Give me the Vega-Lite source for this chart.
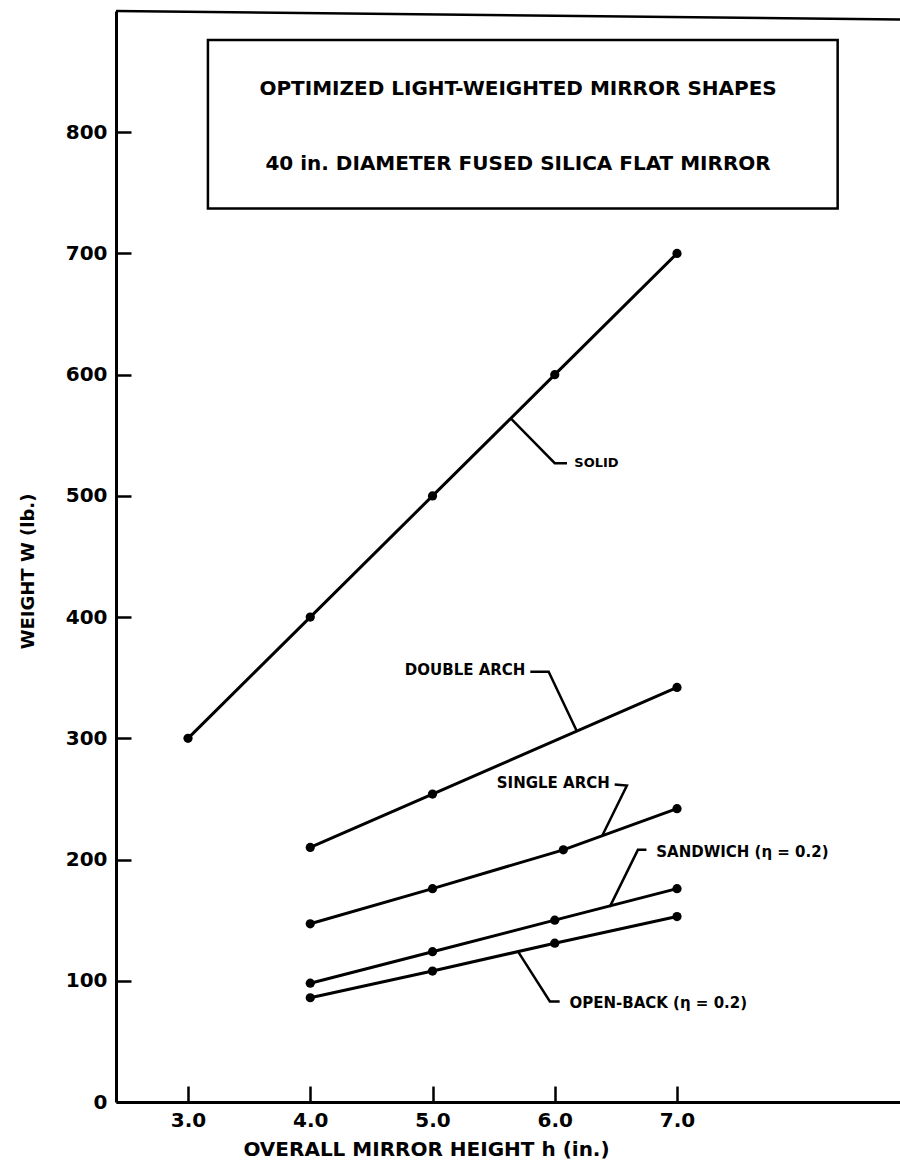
{
  "$schema": "https://vega.github.io/schema/vega-lite/v6.json",
  "width": 784,
  "height": 1091,
  "autosize": "none",
  "padding": {"left": 116, "top": 11, "right": 0, "bottom": 68},
  "background": "white",
  "config": {
    "view": {"stroke": null},
    "font": "DejaVu Sans",
    "axis": {
      "domainColor": "black", "domainWidth": 3, "tickColor": "black", "tickWidth": 2.5,
      "labelFont": "DejaVu Sans", "labelFontWeight": "bold", "labelFontSize": 20, "labelColor": "black",
      "titleFont": "DejaVu Sans", "titleFontWeight": "bold", "titleFontSize": 20, "titleColor": "black",
      "grid": false
    }
  },
  "datasets": {
    "series": [
      {"series": "SOLID", "h": 3.0, "w": 300},
      {"series": "SOLID", "h": 4.0, "w": 400},
      {"series": "SOLID", "h": 5.0, "w": 500},
      {"series": "SOLID", "h": 6.0, "w": 600},
      {"series": "SOLID", "h": 7.0, "w": 700},
      {"series": "DOUBLE ARCH", "h": 4.0, "w": 210},
      {"series": "DOUBLE ARCH", "h": 5.0, "w": 254},
      {"series": "DOUBLE ARCH", "h": 7.0, "w": 342},
      {"series": "SINGLE ARCH", "h": 4.0, "w": 147},
      {"series": "SINGLE ARCH", "h": 5.0, "w": 176},
      {"series": "SINGLE ARCH", "h": 6.07, "w": 208},
      {"series": "SINGLE ARCH", "h": 7.0, "w": 242},
      {"series": "SANDWICH", "h": 4.0, "w": 98},
      {"series": "SANDWICH", "h": 5.0, "w": 124},
      {"series": "SANDWICH", "h": 6.0, "w": 150},
      {"series": "SANDWICH", "h": 7.0, "w": 176},
      {"series": "OPEN-BACK", "h": 4.0, "w": 86},
      {"series": "OPEN-BACK", "h": 5.0, "w": 108},
      {"series": "OPEN-BACK", "h": 6.0, "w": 131},
      {"series": "OPEN-BACK", "h": 7.0, "w": 153}
    ],
    "leaders": [
      {"id": "solid", "k": 1, "h": 5.64, "w": 564},
      {"id": "solid", "k": 2, "h": 6.0, "w": 527},
      {"id": "solid", "k": 3, "h": 6.1, "w": 527},
      {"id": "double", "k": 1, "h": 5.8, "w": 355},
      {"id": "double", "k": 2, "h": 5.95, "w": 355},
      {"id": "double", "k": 3, "h": 6.18, "w": 306},
      {"id": "single", "k": 1, "h": 6.49, "w": 262},
      {"id": "single", "k": 2, "h": 6.59, "w": 261},
      {"id": "single", "k": 3, "h": 6.39, "w": 220},
      {"id": "sandwich", "k": 1, "h": 6.45, "w": 161},
      {"id": "sandwich", "k": 2, "h": 6.68, "w": 208},
      {"id": "sandwich", "k": 3, "h": 6.75, "w": 208},
      {"id": "open", "k": 1, "h": 5.7, "w": 124},
      {"id": "open", "k": 2, "h": 5.96, "w": 83},
      {"id": "open", "k": 3, "h": 6.04, "w": 83}
    ],
    "labelsLeft": [
      {"text": "SANDWICH (η = 0.2)", "h": 6.83, "w": 206},
      {"text": "OPEN-BACK (η = 0.2)", "h": 6.12, "w": 82}
    ],
    "labelsRight": [
      {"text": "DOUBLE ARCH", "h": 5.76, "w": 356},
      {"text": "SINGLE ARCH", "h": 6.45, "w": 263}
    ],
    "solidLabel": [
      {"text": "SOLID", "h": 6.16, "w": 527}
    ],
    "box": [
      {"h": 3.163, "h2": 8.314, "w": 876, "w2": 737}
    ],
    "frame": [
      {"h": 2.411, "h2": 8.824, "w": 900, "w2": 893}
    ],
    "titleLines": [
      {"text": "OPTIMIZED LIGHT-WEIGHTED MIRROR SHAPES", "h": 5.7, "w": 836},
      {"text": "40 in. DIAMETER FUSED SILICA FLAT MIRROR", "h": 5.7, "w": 774}
    ]
  },
  "encoding": {
    "x": {
      "field": "h", "type": "quantitative",
      "scale": {"domain": [2.411, 8.824], "nice": false, "zero": false},
      "axis": {
        "values": [3, 4, 5, 6, 7], "format": ".1f", "tickSize": -16, "labelPadding": 24,
        "title": "OVERALL MIRROR HEIGHT h (in.)", "titleX": 310, "titleY": 37, "titleAnchor": null, "titleAlign": "center"
      }
    },
    "y": {
      "field": "w", "type": "quantitative",
      "scale": {"domain": [0, 900], "nice": false, "zero": true},
      "axis": {
        "values": [0, 100, 200, 300, 400, 500, 600, 700, 800], "tickSize": -15, "labelPadding": 24,
        "title": "WEIGHT  W (lb.)", "titleX": -88, "titleY": 560, "titleAngle": -90, "titleAlign": "center", "titleBaseline": "middle", "titleFontSize": 18
      }
    }
  },
  "layer": [
    {
      "data": {"name": "frame"},
      "mark": {"type": "rule", "color": "black", "strokeWidth": 2.5},
      "encoding": {"x2": {"field": "h2"}, "y2": {"field": "w2"}}
    },
    {
      "data": {"name": "box"},
      "mark": {"type": "rect", "fill": "white", "stroke": "black", "strokeWidth": 2.5},
      "encoding": {"x2": {"field": "h2"}, "y2": {"field": "w2"}}
    },
    {
      "data": {"name": "titleLines"},
      "mark": {"type": "text", "font": "DejaVu Sans", "fontWeight": "bold", "fontSize": 20, "align": "center", "baseline": "middle", "color": "black"},
      "encoding": {"text": {"field": "text"}}
    },
    {
      "data": {"name": "series"},
      "mark": {"type": "line", "color": "black", "strokeWidth": 3},
      "encoding": {"detail": {"field": "series"}}
    },
    {
      "data": {"name": "series"},
      "mark": {"type": "point", "filled": true, "color": "black", "opacity": 1, "size": 85},
      "encoding": {"detail": {"field": "series"}}
    },
    {
      "data": {"name": "leaders"},
      "mark": {"type": "line", "color": "black", "strokeWidth": 2.5},
      "encoding": {"detail": {"field": "id"}, "order": {"field": "k"}}
    },
    {
      "data": {"name": "labelsLeft"},
      "mark": {"type": "text", "font": "DejaVu Sans", "fontWeight": "bold", "fontSize": 15, "align": "left", "baseline": "middle", "color": "black"},
      "encoding": {"text": {"field": "text"}}
    },
    {
      "data": {"name": "labelsRight"},
      "mark": {"type": "text", "font": "DejaVu Sans", "fontWeight": "bold", "fontSize": 15, "align": "right", "baseline": "middle", "color": "black"},
      "encoding": {"text": {"field": "text"}}
    },
    {
      "data": {"name": "solidLabel"},
      "mark": {"type": "text", "font": "DejaVu Sans", "fontWeight": "bold", "fontSize": 13, "align": "left", "baseline": "middle", "color": "black"},
      "encoding": {"text": {"field": "text"}}
    }
  ]
}
